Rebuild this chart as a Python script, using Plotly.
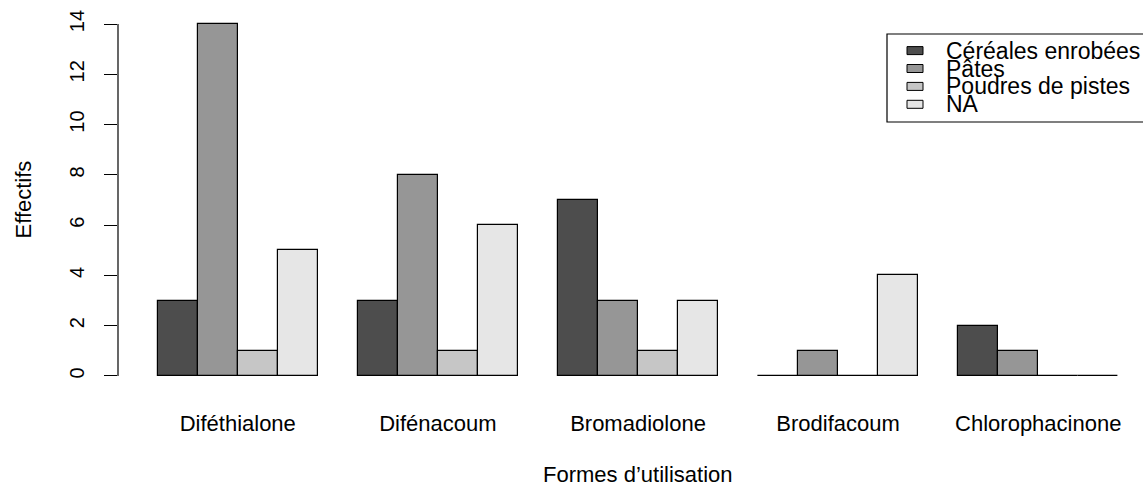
import plotly.graph_objects as go

categories = ["Diféthialone", "Difénacoum", "Bromadiolone", "Brodifacoum", "Chlorophacinone"]
series_names = ["Céréales enrobées", "Pâtes", "Poudres de pistes", "NA"]
cereales = [3, 3, 7, 0, 2]
pates = [14, 8, 3, 1, 1]
poudres = [1, 1, 1, 0, 0]
na_vals = [5, 6, 3, 4, 0]
colors = ["#4D4D4D", "#969696", "#C6C6C6", "#E6E6E6"]
y_ticks = [0, 2, 4, 6, 8, 10, 12, 14]

series = [cereales, pates, poudres, na_vals]
n_series = len(series)
group_step = n_series + 1  # R barplot: one bar-width space before each group

FONT = "Liberation Sans, Arial, Helvetica, sans-serif"
W, H = 1143, 488
L, R, T, B = 118, 0, 10, 98

fig = go.Figure()
for k, (name, vals) in enumerate(zip(series_names, series)):
    xs = [1 + group_step * g + k + 0.5 for g in range(len(categories))]
    fig.add_trace(go.Bar(
        x=xs, y=vals, width=1, name=name,
        marker=dict(color=colors[k], line=dict(color="black", width=1.2)),
        showlegend=False,
    ))

group_centers = [1 + group_step * g + n_series / 2 for g in range(len(categories))]
x_lo = 1 - 39.7 / 40.025
x_hi = 1 + (W - L - 39.7) / 40.025
y_lo, y_hi = -0.56, 14.56

fig.update_layout(
    width=W, height=H,
    margin=dict(l=L, r=R, t=T, b=B, pad=0),
    paper_bgcolor="white", plot_bgcolor="white",
    barmode="overlay", bargap=0,
    font=dict(family=FONT, color="black"),
    xaxis=dict(range=[x_lo, x_hi], showgrid=False, zeroline=False, showline=False,
               tickvals=group_centers, ticktext=categories, ticks="",
               tickfont=dict(size=22, family=FONT, color="black"),
               ticklabelstandoff=18),
    yaxis=dict(range=[y_lo, y_hi], showgrid=False, zeroline=False, showline=False,
               tickvals=y_ticks, ticktext=[str(v) for v in y_ticks],
               ticks="outside", ticklen=13, tickwidth=1.2, tickcolor="black",
               tickangle=-90, tickfont=dict(size=20, family=FONT, color="black"),
               ticklabelstandoff=12),
    showlegend=False,
)

# R-style y axis line spanning only the tick range
fig.add_shape(type="line", xref="paper", yref="y", x0=0, x1=0,
              y0=y_ticks[0], y1=y_ticks[-1], line=dict(color="black", width=1.2))

pw, ph = W - L - R, H - T - B
def px(xp):
    return (xp - L) / pw
def py(yp):
    return (H - B - yp) / ph

# axis titles
fig.add_annotation(text="Formes d\u2019utilisation", xref="x", yref="paper",
                   x=(x_lo + 0.032 + 25.96) / 2, y=py(475),
                   xanchor="center", yanchor="middle", showarrow=False,
                   font=dict(size=22, family=FONT, color="black"))
fig.add_annotation(text="Effectifs", xref="paper", yref="paper",
                   x=px(22.5), y=0.5, textangle=-90,
                   xanchor="center", yanchor="middle", showarrow=False,
                   font=dict(size=22, family=FONT, color="black"))

# legend (R-style, compact rows)
fig.add_shape(type="rect", xref="paper", yref="paper",
              x0=px(887), x1=px(1160), y0=py(122), y1=py(34),
              line=dict(color="black", width=1.2), fillcolor="white")
row0, row_step = 50.6, 17.9
for k, name in enumerate(series_names):
    yc = row0 + row_step * k
    fig.add_shape(type="rect", xref="paper", yref="paper",
                  x0=px(907), x1=px(923), y0=py(yc + 4), y1=py(yc - 4),
                  line=dict(color="black", width=1), fillcolor=colors[k])
    fig.add_annotation(text=name, xref="paper", yref="paper",
                       x=px(944), y=py(yc), xanchor="left", yanchor="middle",
                       showarrow=False, font=dict(size=23, family=FONT, color="black"))

fig.write_html("out.html")
